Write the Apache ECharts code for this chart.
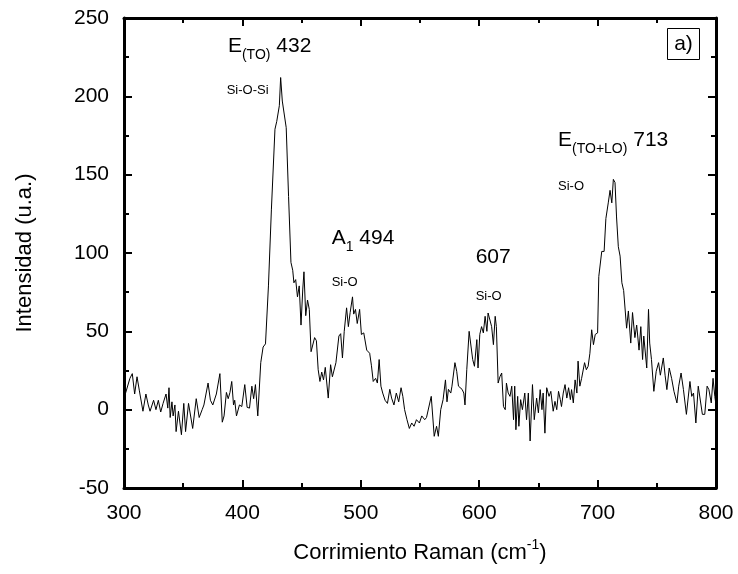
<!DOCTYPE html>
<html>
<head>
<meta charset="utf-8">
<script src="https://cdn.jsdelivr.net/npm/echarts@6/dist/echarts.min.js"></script>
<style>
  html, body { margin: 0; padding: 0; background: #fff; }
  #main { width: 738px; height: 574px; }
</style>
</head>
<body>
<div id="main"></div>
<script>
// espectro Raman (a)
var ramanShift = [
  300, 301.5, 305, 307, 309, 311, 313, 316, 318.5, 320.5, 322, 325, 327, 329, 331, 333, 335.5, 337, 338, 339,
  340.5, 341.5, 343, 344, 346, 348.5, 350.5, 352, 354.5, 358, 361, 363.5, 366, 367.5, 369, 371, 373, 375, 378, 381,
  383, 384.5, 386.5, 388, 389.5, 391, 392.5, 393.5, 395, 397.5, 399.5, 402, 404, 406, 408, 409.5, 411, 413, 415.5, 417.5,
  419.5, 422, 424.5, 427.5, 429, 430.5, 431.2, 432.3, 433.7, 435, 437, 439, 441, 442.5, 443.5, 445, 446.5, 448, 449.5, 451,
  452, 453.5, 455, 456.5, 458, 459.5, 461, 462.5, 464, 465.5, 467, 468.5, 470, 472.5, 474.5, 476, 479, 481.5, 483, 484.5,
  486, 487, 488, 489.5, 491, 493, 494, 495.5, 497, 499, 500.5, 502.5, 505, 507.5, 509, 510.5, 512.5, 514, 515.5, 517,
  518.5, 520.5, 522.5, 524.5, 526, 528, 530, 532, 534, 535.5, 537, 539, 541, 543, 545, 547, 549.5, 551.5, 554, 555.5,
  557, 559.5, 562, 564, 565.5, 567.5, 569.5, 571.5, 572.8, 574, 576, 577, 579.5, 581, 582.5, 584, 585.5, 587, 588, 589.5,
  591.5, 593, 594.5, 596, 598, 599, 600.5, 602, 603.5, 605, 606.5, 607.5, 609, 610.5, 612, 613.5, 614.5, 616, 617.5, 619,
  620.5, 622, 623, 624.5, 626, 627.5, 629, 630, 631, 632.5, 633.5, 635, 636.5, 638.5, 640, 641.5, 643, 645, 646.5, 648.5,
  650, 651.5, 653, 654, 655.5, 657, 659, 660.5, 662.5, 664, 665.5, 667, 668.5, 669.5, 671, 672.5, 674, 675.5, 677, 678,
  679.5, 681, 682.5, 683.5, 685, 686.5, 689, 690.5, 692, 693.5, 695, 696.5, 698, 699, 700, 701, 703.5, 705.5, 707, 709,
  710.5, 712, 713.3, 714.7, 716, 717.5, 719, 720.5, 722, 724.5, 726, 728, 729.5, 731.5, 733, 735, 736.5, 738, 739, 741.5,
  743, 744, 745.5, 747.5, 749.5, 751.5, 753, 755.5, 757, 758.5, 760.5, 762.5, 764.5, 767, 768.5, 770.5, 772.5, 775, 778, 779.5,
  781, 783, 785, 786.5, 788.5, 790.5, 792.5, 794, 796, 797.5, 799, 800
];
var intensity = [
  8, 11, 20, 23, 10, 21, 12, -1, 10, 3, -1, 6, 0, 6, -1.5, 4, 10, 1, 14, -5,
  5, -4, 3, -14, -1, -16, 4, -14, 4, -12, 7, -5, 0, 3, 4, 17, 6, 3, 10, 23,
  -8, -4, 11, 7, 11, 18, 3, 6, -4, 3, 2, 16, 1.5, 1, 15, 7, 16, -4, 30, 40,
  42, 79, 128, 179, 184, 183, 194, 212, 197, 196, 180, 136, 94, 89, 81, 83, 72, 79, 54, 77,
  88, 60, 70, 64, 37, 36, 46, 44, 25.5, 18, 24, 19, 27, 7.4, 28.7, 21, 30, 47, 48.5, 33,
  50, 51, 65, 53, 62, 72, 61, 64, 55, 64, 48, 49, 38, 36, 28, 18, 20, 17, 32, 15,
  10.6, 6, 4, 13, 7.4, 3, 10.6, 5, 14, 8.5, 0, -6.4, -12, -8.5, -10.6, -6.4, -8.5, -4, -6.4, -5,
  -4, 8.5, -17, -10.6, -17, 0, 6.4, 19, 5, 13, 10.6, 15, 30, 24.5, 15, 15, 13, 10.6, 3, 25.5,
  50, 49, 32, 27.7, 44.7, 26.6, 48, 53, 49, 59.6, 50, 61.7, 60.6, 53, 41.5, 59.6, 53, 17, 21, 23.4,
  2, 0, 17, 10.6, 8.5, 15, -6.4, 15, -12.8, 8.5, -10.6, 6.4, 0, 10.6, -6.4, 10.6, -20, 16, -6.4, 7.4,
  -2, 12.8, 0, 10.6, -15, 14, 8.5, 11.7, -1, 5.3, 0, 11.7, 6.4, 2, 10.6, 16, 7.4, 14, 6.4, 12.8,
  4.3, 19, 10.6, 31, 15, 20, 30, 25.5, 27.7, 36, 51, 41.5, 48, 49, 49, 85, 101, 101, 122, 132,
  140, 132, 147, 145, 123, 104, 98, 81, 76, 52, 63, 42.5, 62, 46, 54, 38, 53, 32, 47, 26.6,
  64, 42.5, 32, 11.7, 24.5, 30, 22, 33, 22, 12.8, 26.6, 20, 11.7, 4.3, 15, 23.4, 12.8, -3, 18, 8.5,
  10.6, -8.5, 15, 15, -3, -3, 15, 12.8, 4.3, 20, 8.5, 3
];

// etiquetas de los picos: [x, y, texto]
var peakLabels = [
  [387.8, 232, '{m|E}{s|(TO)}{m| 432}'],
  [386.7, 203.5, '{t|Si-O-Si}'],
  [475.4, 109.5, '{m|A}{s|1}{m| 494}'],
  [475.4, 81, '{t|Si-O}'],
  [597, 97, '{m|607}'],
  [597, 72, '{t|Si-O}'],
  [666.6, 172, '{m|E}{s|(TO+LO)}{m| 713}'],
  [666.6, 142.3, '{t|Si-O}']
];

var xTicks = { min: 300, max: 800, interval: 100 };
var yTicks = { min: -50, max: 250, interval: 50 };

var FONT = 'Arial, "Liberation Sans", sans-serif';

var chart = echarts.init(document.getElementById('main'), null, { renderer: 'canvas' });

function axisBase(show) {
  return {
    axisLine: { show: true, onZero: false, lineStyle: { color: '#000', width: 3 } },
    axisTick: { show: true, inside: true, length: 8, lineStyle: { color: '#000', width: 2 } },
    minorTick: { show: true, splitNumber: 2, length: 5, lineStyle: { color: '#000', width: 2 } },
    splitLine: { show: false },
    axisLabel: {
      show: show,
      color: '#000',
      fontFamily: FONT,
      fontSize: 21
    }
  };
}

var xBottom = Object.assign(axisBase(true), {
  type: 'value', position: 'bottom', min: xTicks.min, max: xTicks.max, interval: xTicks.interval,
  name: '{a|Corrimiento Raman (cm}{b|-1}{a|)}',
  nameLocation: 'middle', nameGap: 50,
  nameTextStyle: {
    rich: {
      a: { fontSize: 22, fontFamily: FONT, color: '#000', verticalAlign: 'middle' },
      b: { fontSize: 14, fontFamily: FONT, color: '#000', verticalAlign: 'middle', padding: [0, 0, 16, 0] }
    }
  }
});
xBottom.axisLabel.margin = 15;

var xTop = Object.assign(axisBase(false), {
  type: 'value', position: 'top', min: xTicks.min, max: xTicks.max, interval: xTicks.interval
});

var yLeft = Object.assign(axisBase(true), {
  type: 'value', position: 'left', min: yTicks.min, max: yTicks.max, interval: yTicks.interval,
  name: 'Intensidad (u.a.)',
  nameLocation: 'middle', nameGap: 88,
  nameTextStyle: { fontSize: 22, fontFamily: FONT, color: '#000' }
});
yLeft.axisLabel.margin = 15;

var yRight = Object.assign(axisBase(false), {
  type: 'value', position: 'right', min: yTicks.min, max: yTicks.max, interval: yTicks.interval
});

var spectrum = ramanShift.map(function (x, i) {
  return [x, intensity[i]];
});

var option = {
  backgroundColor: '#fff',
  animation: false,
  grid: { left: 124, right: 22, top: 18, bottom: 86, containLabel: false },
  xAxis: [xBottom, xTop],
  yAxis: [yLeft, yRight],
  graphic: [{
    type: 'group',
    right: 38,
    top: 28,
    children: [
      { type: 'rect', shape: { x: 0, y: 0, width: 32, height: 31 },
        style: { fill: '#fff', stroke: '#000', lineWidth: 1 } },
      { type: 'text', x: 16, y: 16,
        style: { text: 'a)', font: '21px ' + FONT, fill: '#000', align: 'center', verticalAlign: 'middle' } }
    ]
  }],
  series: [{
    type: 'line',
    data: spectrum,
    showSymbol: false,
    symbol: 'none',
    lineStyle: { color: '#000', width: 1 },
    markPoint: {
      symbol: 'circle',
      symbolSize: 0,
      silent: true,
      label: {
        show: true,
        position: 'right',
        distance: 0,
        color: '#000',
        formatter: function (p) { return p.data.txt; },
        rich: {
          m: { fontSize: 21, fontFamily: FONT, color: '#000', verticalAlign: 'middle' },
          s: { fontSize: 14, fontFamily: FONT, color: '#000', verticalAlign: 'middle', padding: [18, 0, 0, 0] },
          t: { fontSize: 13, fontFamily: FONT, color: '#000', verticalAlign: 'middle' }
        }
      },
      data: peakLabels.map(function (p) {
        return { coord: [p[0], p[1]], txt: p[2] };
      })
    }
  }]
};

chart.setOption(option);
</script>
</body>
</html>
